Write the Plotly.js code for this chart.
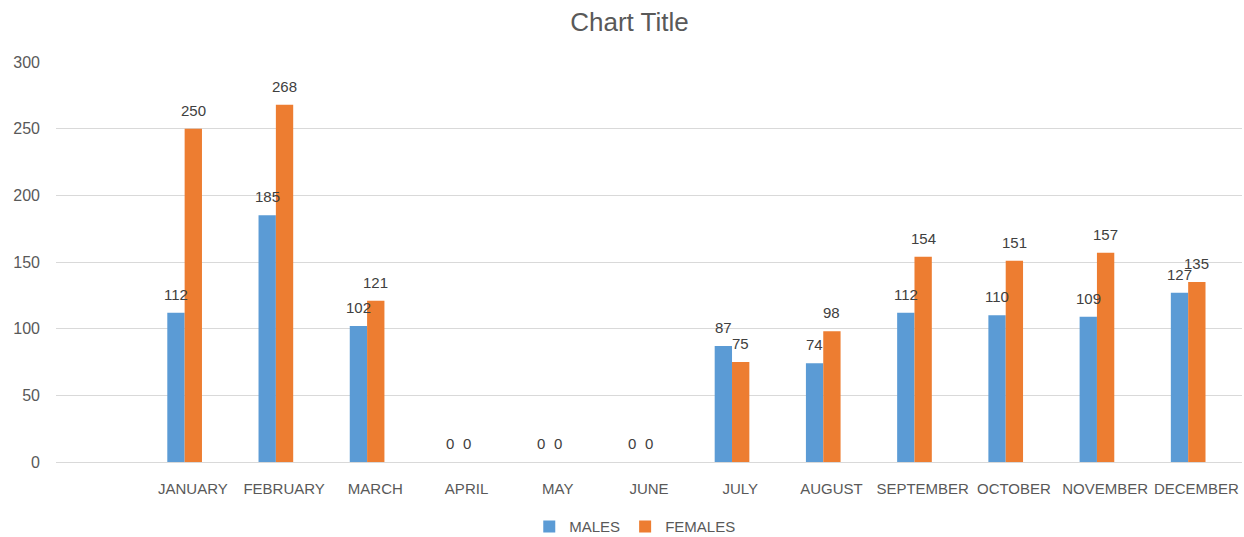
<!DOCTYPE html>
<html>
<head>
<meta charset="utf-8">
<script src="https://cdn.plot.ly/plotly-3.0.1.min.js"></script>
<style>html,body{margin:0;padding:0;background:#fff;}#chart{width:1244px;height:537px;}</style>
</head>
<body>
<div id="chart"></div>
<script>
const months = ["JANUARY","FEBRUARY","MARCH","APRIL","MAY","JUNE","JULY","AUGUST","SEPTEMBER","OCTOBER","NOVEMBER","DECEMBER"];
const males = [112,185,102,0,0,0,87,74,112,110,109,127];
const females = [250,268,121,0,0,0,75,98,154,151,157,135];
const yTicks = [0,50,100,150,200,250,300];

const font = "Liberation Sans, Arial, sans-serif";
const BW = 0.19, SHIFT = -0.09;
const CAT_PX = (1244 - 56 - 2) / 13;
const mk = (name, vals, color, off) => ({
  type: "bar", name: name, x: months, y: vals,
  marker: {color: color},
  width: BW, offset: off, hoverinfo: "none"
});
const data = [mk("MALES", males, "#5b9bd5", SHIFT - BW), mk("FEMALES", females, "#ed7d31", SHIFT)];
const labels = (vals, off) => vals.map((v, i) => ({
  x: months[i], y: v, xref: "x", yref: "y", text: String(v), showarrow: false,
  yanchor: "bottom", xanchor: "center", yshift: 8, xshift: (off + BW / 2) * CAT_PX,
  font: {family: font, size: 15, color: "#404040"}
}));
const layout = {
  width: 1244, height: 537,
  margin: {l: 56, r: 2, t: 62, b: 75, autoexpand: false},
  paper_bgcolor: "#fff", plot_bgcolor: "#fff",
  title: {text: "Chart Title", x: 0.506, xanchor: "center", y: 0.96, yanchor: "middle", font: {family: font, size: 26, color: "#595959"}},
  barmode: "overlay",
  xaxis: {type: "category", range: [-1.5, 11.5], showgrid: false, showline: false, zeroline: false, ticks: "",
          ticklabelstandoff: 16, automargin: false,
          tickfont: {family: font, size: 15, color: "#595959"}, fixedrange: true},
  yaxis: {range: [0, 300], tickvals: yTicks, ticktext: yTicks.map(String), showgrid: true, gridcolor: "#d9d9d9",
          zeroline: true, zerolinecolor: "#d9d9d9", showline: false, ticks: "", ticklabelstandoff: 15, automargin: false,
          tickfont: {family: font, size: 16, color: "#595959"}},
  annotations: labels(males, SHIFT - BW).concat(labels(females, SHIFT)),
  showlegend: true,
  legend: {orientation: "h", x: 0.488, xanchor: "center", yref: "container", y: 0.019, yanchor: "middle",
           itemwidth: 30, font: {family: font, size: 15, color: "#595959"}}
};
Plotly.newPlot("chart", data, layout, {displayModeBar: false, staticPlot: true});
</script>
</body>
</html>
